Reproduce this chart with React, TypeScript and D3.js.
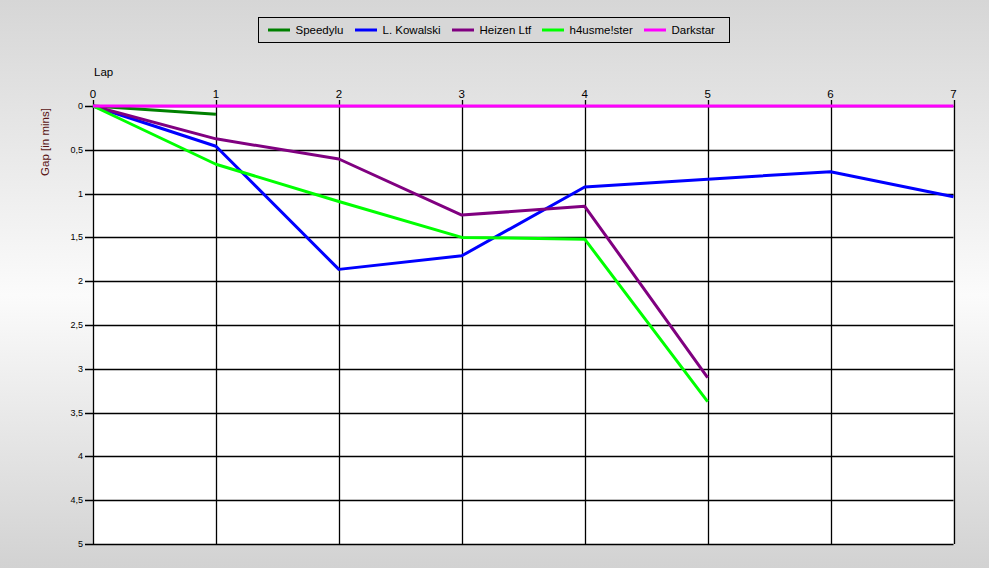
import React from "react";
import * as d3 from "d3";

const laps = [0, 1, 2, 3, 4, 5, 6, 7];
const yTicks = [0, 0.5, 1, 1.5, 2, 2.5, 3, 3.5, 4, 4.5, 5];
const seriesNames = ["Speedylu", "L. Kowalski", "Heizen Ltf", "h4usme!ster", "Darkstar"];
const seriesColors = ["#008000", "#0000ff", "#800080", "#00ff00", "#ff00ff"];
const speedylu = [0, 0.095];
const kowalski = [0, 0.46, 1.865, 1.71, 0.925, 0.835, 0.75, 1.035];
const heizen = [0, 0.375, 0.605, 1.245, 1.145, 3.1];
const h4usmester = [0, 0.665, 1.09, 1.5, 1.52, 3.375];
const darkstar = [0, 0, 0, 0, 0, 0, 0, 0];
const seriesValues = [speedylu, kowalski, heizen, h4usmester, darkstar];

const W = 989;
const H = 568;
const plot = { left: 93, right: 953.5, top: 106, bottom: 544 };
const legendBox = { x: 258, y: 17, w: 471, h: 25 };
const legendItemX = [268, 355, 452, 542, 644];

const font = "'Liberation Sans', Arial, sans-serif";

export default function App() {
  const x = d3.scaleLinear().domain([0, 7]).range([plot.left, plot.right]);
  const y = d3.scaleLinear().domain([0, 5]).range([plot.top, plot.bottom]);
  const line = d3
    .line<number>()
    .x((_, i) => x(laps[i]))
    .y((d) => y(d));
  const fmt = (v: number) => String(v).replace(".", ",");

  return (
    <svg
      width={W}
      height={H}
      style={{ position: "absolute", left: 0, top: 0, display: "block" }}
      fontFamily={font}
    >
      <defs>
        <linearGradient id="bg" x1="0" y1="0" x2="0" y2="1">
          <stop offset="0" stopColor="#d6d6d6" />
          <stop offset="0.52" stopColor="#fbfbfb" />
          <stop offset="1" stopColor="#d2d2d2" />
        </linearGradient>
      </defs>
      <rect x={0} y={0} width={W} height={H} fill="url(#bg)" />

      {/* Legend */}
      <rect
        x={legendBox.x + 0.5}
        y={legendBox.y + 0.5}
        width={legendBox.w}
        height={legendBox.h}
        fill="#d7d7d7"
        stroke="#000"
        strokeWidth={1}
      />
      {seriesNames.map((n, i) => (
        <g key={n}>
          <line
            x1={legendItemX[i]}
            x2={legendItemX[i] + 22}
            y1={legendBox.y + 13}
            y2={legendBox.y + 13}
            stroke={seriesColors[i]}
            strokeWidth={3}
          />
          <text
            x={legendItemX[i] + 27.5}
            y={legendBox.y + 17}
            fontSize={11.5}
            fill="#000"
          >
            {n}
          </text>
        </g>
      ))}

      {/* Plot area */}
      <rect
        x={plot.left}
        y={plot.top}
        width={plot.right - plot.left}
        height={plot.bottom - plot.top}
        fill="#fff"
      />
      {yTicks.map((t) => (
        <g key={"y" + t}>
          <line
            x1={plot.left - 8}
            x2={plot.right}
            y1={Math.round(y(t)) + 0.5}
            y2={Math.round(y(t)) + 0.5}
            stroke="#000"
            strokeWidth={1.3}
          />
          <text
            x={plot.left - 10}
            y={y(t) + 3}
            fontSize={9}
            textAnchor="end"
            fill="#000"
          >
            {fmt(t)}
          </text>
        </g>
      ))}
      {laps.map((l) => (
        <g key={"x" + l}>
          <line
            x1={Math.round(x(l)) + 0.5}
            x2={Math.round(x(l)) + 0.5}
            y1={plot.top - 6}
            y2={plot.bottom}
            stroke="#000"
            strokeWidth={1.3}
          />
          <text x={x(l)} y={98} fontSize={11.5} textAnchor="middle" fill="#000">
            {l}
          </text>
        </g>
      ))}
      <text x={94} y={76} fontSize={11.5} fill="#000">
        Lap
      </text>
      <text
        transform={`translate(49,${142}) rotate(-90)`}
        fontSize={11.5}
        textAnchor="middle"
        fill="#5a1414"
      >
        Gap [in mins]
      </text>

      {/* Series */}
      {seriesValues.map((vals, i) => (
        <path
          key={seriesNames[i]}
          d={line(vals) || ""}
          fill="none"
          stroke={seriesColors[i]}
          strokeWidth={3}
          strokeLinejoin="round"
        />
      ))}
    </svg>
  );
}
